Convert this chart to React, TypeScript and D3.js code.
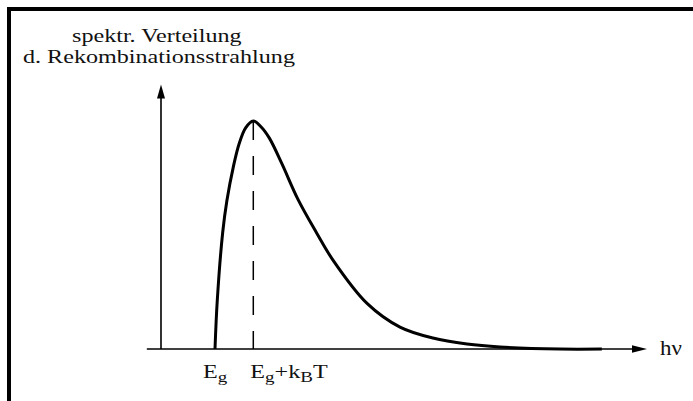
import React from "react";
import * as d3 from "d3";

const W = 693;
const H = 401;

// Photon energy above the gap, in units of kBT (0 = Eg, 1 = Eg + kBT)
const energy = [0, 0.06, 0.2, 0.31, 0.48, 0.63, 0.8, 1.0, 1.2, 1.42, 1.74, 2.17, 2.65, 3.08, 3.97, 4.83, 5.69, 6.58, 7.44, 9.0, 10.1];
// Relative spectral intensity of the recombination radiation
const intensity = [0, 0.215, 0.51, 0.65, 0.8, 0.9, 0.97, 1.0, 0.975, 0.925, 0.815, 0.655, 0.51, 0.39, 0.2, 0.096, 0.048, 0.022, 0.009, 0.0, 0.0];

const yTitle = ["spektr. Verteilung", "d. Rekombinationsstrahlung"];
const xTitle = "hν";
// Tick positions on the energy axis and their labels as [text, subscript] runs
const tickValues = [0, 1];
const tickLabels = [
  [["E", false], ["g", true]],
  [["E", false], ["g", true], ["+k", false], ["B", true], ["T", false]],
] as [string, boolean][][];

const FONT = "Liberation Serif";
// the lettering is set slightly wide
const STRETCH = 1.27;

function Wide({ x, y, size, children }: { x: number; y: number; size: number; children: React.ReactNode }) {
  return (
    <g transform={`translate(${x},${y}) scale(${STRETCH},1)`}>
      <text x={0} y={0} style={{ fontFamily: FONT }} fontSize={size} fill="#111">
        {children}
      </text>
    </g>
  );
}

export default function App() {
  const x = d3.scaleLinear().domain([0, 10]).range([215, 598]);
  const y = d3.scaleLinear().domain([0, 1]).range([349, 121]);

  const line = d3
    .line<number>()
    .x((_, i) => x(energy[i]))
    .y((d) => y(d))
    .curve(d3.curveCatmullRom.alpha(0.5));
  const curvePath = line(intensity) || "";

  const axisY = y(0);
  const xStart = x(-1.78);
  const xEnd = x(11.28);
  const yAxisX = x(-1.41);
  const yTop = y(1.16);

  const peakIdx = intensity.indexOf(d3.max(intensity) as number);
  const peakX = x(energy[peakIdx]);
  const peakY = y(intensity[peakIdx]);

  const labelOffsets = [-12, -3];

  return (
    <svg
      width={W}
      height={H}
      style={{ position: "absolute", left: 0, top: 0, background: "#fff" }}
    >
      <rect x={0} y={0} width={W} height={H} fill="#fff" />
      {/* frame */}
      <line x1={7} y1={9} x2={W} y2={9} stroke="#000" strokeWidth={4} />
      <line x1={9} y1={7} x2={9} y2={H} stroke="#000" strokeWidth={4} />

      {/* y title */}
      <Wide x={72} y={42} size={19}>{yTitle[0]}</Wide>
      <Wide x={23} y={63} size={19}>{yTitle[1]}</Wide>

      {/* axes */}
      <line x1={xStart} y1={axisY} x2={xEnd - 14} y2={axisY} stroke="#000" strokeWidth={1.6} />
      <path
        d={`M${xEnd},${axisY} L${xEnd - 15},${axisY - 3.8} L${xEnd - 15},${axisY + 3.8} Z`}
        fill="#000"
      />
      <line x1={yAxisX} y1={axisY} x2={yAxisX} y2={yTop + 12} stroke="#000" strokeWidth={1.6} />
      <path
        d={`M${yAxisX},${yTop} L${yAxisX - 4},${yTop + 14} L${yAxisX + 4},${yTop + 14} Z`}
        fill="#000"
      />

      {/* dashed marker at the maximum */}
      <line
        x1={peakX}
        y1={peakY}
        x2={peakX}
        y2={axisY}
        stroke="#000"
        strokeWidth={1.5}
        strokeDasharray="19,16"
      />

      {/* spectrum */}
      <path d={curvePath} fill="none" stroke="#000" strokeWidth={3} strokeLinejoin="round" />

      {/* x tick labels */}
      {tickValues.map((v, i) => {
        let prevSub = false;
        return (
          <Wide key={i} x={x(v) + labelOffsets[i]} y={378} size={19}>
            {tickLabels[i].map(([t, sub], j) => {
              const dy = sub && !prevSub ? 4 : !sub && prevSub ? -4 : 0;
              prevSub = sub;
              return (
                <tspan key={j} dy={dy} fontSize={sub ? 15 : 19}>
                  {t}
                </tspan>
              );
            })}
          </Wide>
        );
      })}

      {/* x title */}
      <g transform={`translate(660,355) scale(1.15,1)`}>
        <text x={0} y={0} style={{ fontFamily: FONT }} fontSize={20} fill="#111">
          {xTitle}
        </text>
      </g>
    </svg>
  );
}
